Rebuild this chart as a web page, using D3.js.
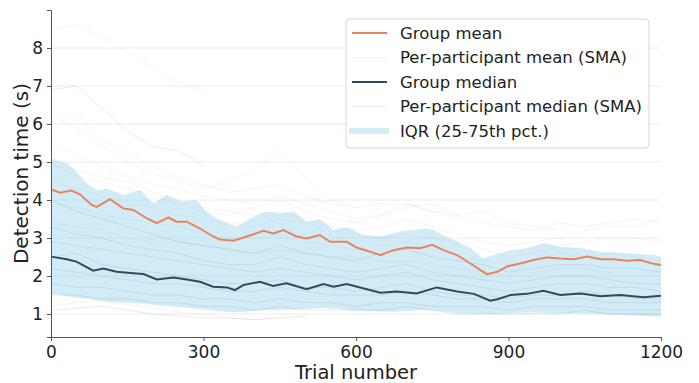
<!DOCTYPE html>
<html>
<head>
<meta charset="utf-8">
<script src="https://cdn.jsdelivr.net/npm/d3@7"></script>
<style>
  html, body { margin: 0; padding: 0; background: #fff; }
  svg { display: block; font-family: "DejaVu Sans", sans-serif; }
</style>
</head>
<body>
<svg id="chart" width="699" height="383"></svg>
<script>
// ---------------- DATA ----------------
const xTicks = [0, 300, 600, 900, 1200];
const yTicks = [1, 2, 3, 4, 5, 6, 7, 8];

const meanTrials = [0, 18, 40, 57, 80, 90, 116, 142, 162, 188, 208, 231, 247, 267, 293, 319, 332, 359, 385, 418, 437, 457, 483, 503, 529, 549, 582, 601, 628, 648, 673, 700, 726, 750, 772, 799, 825, 844, 858, 878, 897, 923, 949, 976, 1002, 1028, 1055, 1081, 1106, 1134, 1159, 1185, 1200];
const meanValues = [4.28, 4.19, 4.25, 4.15, 3.87, 3.82, 4.02, 3.78, 3.74, 3.52, 3.39, 3.54, 3.43, 3.43, 3.25, 3.04, 2.96, 2.93, 3.04, 3.19, 3.12, 3.21, 3.04, 2.99, 3.08, 2.90, 2.90, 2.75, 2.64, 2.55, 2.68, 2.75, 2.73, 2.82, 2.68, 2.55, 2.33, 2.16, 2.05, 2.11, 2.25, 2.33, 2.42, 2.49, 2.46, 2.44, 2.51, 2.44, 2.44, 2.40, 2.42, 2.32, 2.29];

const medianTrials = [0, 31, 50, 83, 103, 129, 162, 182, 208, 241, 267, 293, 319, 346, 362, 378, 411, 437, 463, 503, 536, 556, 582, 608, 648, 680, 719, 759, 799, 832, 864, 878, 904, 936, 969, 1002, 1042, 1081, 1120, 1166, 1200];
const medianValues = [2.51, 2.44, 2.38, 2.14, 2.20, 2.11, 2.07, 2.05, 1.91, 1.96, 1.91, 1.85, 1.72, 1.70, 1.63, 1.76, 1.85, 1.74, 1.81, 1.65, 1.79, 1.72, 1.79, 1.70, 1.56, 1.59, 1.54, 1.70, 1.59, 1.53, 1.35, 1.39, 1.50, 1.53, 1.61, 1.50, 1.54, 1.47, 1.50, 1.44, 1.48];

const iqrUpperTrials = [0, 31, 44, 70, 90, 110, 142, 175, 201, 228, 254, 286, 306, 332, 365, 398, 424, 450, 477, 503, 529, 556, 582, 614, 648, 687, 739, 752, 792, 825, 851, 871, 904, 936, 969, 1002, 1042, 1081, 1134, 1185, 1200];
const iqrUpperValues = [5.10, 4.96, 4.83, 4.44, 4.26, 4.30, 4.13, 4.26, 3.91, 4.13, 3.96, 4.00, 3.69, 3.47, 3.30, 3.56, 3.69, 3.65, 3.69, 3.43, 3.50, 3.21, 3.28, 3.08, 3.04, 3.17, 3.25, 3.21, 2.95, 2.73, 2.46, 2.55, 2.68, 2.73, 2.86, 2.77, 2.73, 2.64, 2.60, 2.55, 2.51];

const iqrLowerTrials = [0, 18, 44, 77, 110, 175, 241, 306, 359, 405, 470, 536, 601, 673, 739, 805, 871, 936, 1002, 1068, 1134, 1200];
const iqrLowerValues = [1.54, 1.50, 1.44, 1.39, 1.32, 1.28, 1.19, 1.11, 1.04, 1.09, 1.11, 1.15, 1.09, 1.06, 1.11, 1.02, 1.00, 1.04, 1.02, 1.00, 0.97, 0.93];

// per-participant SMA curves, one value every 50 trials starting at trial 0
const participantStep = 50;
const participantMeans = [
  [8.5, 8.6, 8.3, 7.9, 7.5, 7.1, 6.9],
  [6.2, 5.9, 5.4, 5.0, 4.7, 4.5, 4.3, 4.5, 4.8, 5.3, 4.6, 4.0, 3.8],
  [5.8, 6.3, 5.6, 5.2, 4.9, 4.6, 4.4, 4.2, 4.3, 4.4, 4.1, 3.9, 3.8, 3.9, 3.9, 3.7, 3.6, 3.7, 3.4, 3.3, 3.2],
  [5.5, 5.2, 4.9, 4.6, 4.4, 4.3, 4.1, 4.0, 3.9, 4.1, 3.9, 3.7, 3.5, 3.6, 3.8, 3.9, 3.6, 3.4, 3.3, 3.2, 3.4, 3.3, 3.4, 3.5, 3.4],
  [4.9, 4.8, 4.6, 4.5, 4.2, 4.0, 3.8, 3.7, 3.6, 3.7, 3.5, 3.3, 3.2, 3.3, 3.5, 3.3, 3.1, 2.9, 2.8, 2.9, 3.0, 3.2, 3.3, 3.3, 3.5],
  [3.9, 3.8, 3.6, 3.5, 3.4, 3.3, 3.1, 3.0, 3.0, 3.1, 2.9, 2.8, 2.7, 2.8, 2.9, 2.7, 2.5, 2.4, 2.3, 2.4, 2.6, 2.5, 2.6, 2.5, 2.4],
  [3.4, 3.3, 3.2, 3.0, 2.9, 2.9, 2.8, 2.7, 2.6, 2.7, 2.6, 2.5, 2.5, 2.4, 2.4, 2.3, 2.2, 2.1, 2.0, 2.1, 2.2, 2.2, 2.1, 2.1, 2.0],
  [5.0, 4.6, 4.5, 4.3, 4.1, 3.9, 3.7, 3.6, 3.8, 4.0, 3.7, 3.5, 3.4, 3.6, 3.9, 3.7, 3.5],
  [1.2, 1.3, 1.35, 1.25, 1.15, 1.05, 1.0, 0.9, 0.85, 0.9],
  [4.5, 4.3, 4.1, 3.9, 3.8, 3.6, 3.5, 3.4, 3.3, 3.5, 3.4, 3.2, 3.1, 3.0, 3.1, 3.0, 2.9, 2.7, 2.5, 2.6, 2.8, 2.9, 3.0, 3.0, 2.9]
];
const participantMedians = [
  [6.9, 7.0, 6.4, 5.8, 5.4, 5.3, 4.9],
  [2.9, 2.8, 2.7, 2.6, 2.5, 2.4, 2.3, 2.2, 2.1, 2.2, 2.1, 2.0, 1.9, 2.0, 2.1, 1.9, 1.8, 1.7, 1.6, 1.7, 1.8, 1.8, 1.7, 1.7, 1.6],
  [2.2, 2.1, 2.0, 1.9, 1.8, 1.8, 1.7, 1.6, 1.6, 1.7, 1.6, 1.5, 1.5, 1.5, 1.6, 1.5, 1.4, 1.4, 1.3, 1.4, 1.4, 1.4, 1.3, 1.3, 1.3],
  [1.8, 1.7, 1.7, 1.6, 1.5, 1.5, 1.4, 1.4, 1.3, 1.4, 1.3, 1.3, 1.2, 1.3, 1.3, 1.2, 1.2, 1.2, 1.1, 1.2, 1.2, 1.2, 1.1, 1.1, 1.1],
  [3.3, 3.1, 3.0, 2.8, 2.7, 2.6, 2.4, 2.3, 2.3, 2.5, 2.3, 2.2, 2.1, 2.2, 2.3, 2.1, 2.0, 1.9, 1.8, 1.9, 2.0, 2.0, 1.9, 1.8, 1.8],
  [2.5, 2.6, 2.3, 2.2, 2.1, 2.0, 1.9, 1.8, 1.8, 1.9, 1.7, 1.7, 1.6, 1.7, 1.8, 1.6, 1.5, 1.5, 1.4, 1.5, 1.5, 1.6, 1.5, 1.4, 1.4],
  [4.0, 3.7, 3.5, 3.3, 3.1, 2.9, 2.8, 2.7, 2.6, 2.8, 2.6, 2.5, 2.4, 2.6, 2.7, 2.5, 2.4, 2.3, 2.1, 2.2, 2.3, 2.3, 2.2, 2.2, 2.1],
  [1.5, 1.5, 1.4, 1.4, 1.3, 1.3, 1.2, 1.2, 1.1, 1.2, 1.1, 1.1, 1.1, 1.1, 1.2, 1.1, 1.0, 1.0, 1.0, 1.0, 1.0, 1.1, 1.0, 1.0, 1.0],
  [1.1, 1.15, 1.2, 1.1, 1.0, 0.95, 0.9, 0.9, 0.85, 0.9, 0.95]
];

const legendLabels = ["Group mean", "Per-participant mean (SMA)", "Group median", "Per-participant median (SMA)", "IQR (25-75th pct.)"];

// ---------------- STYLE ----------------
const colMean = "#e8845c";
const colMedian = "#34495e";
const colBand = "#87ceeb";
const colPMean = "#f0a07a";
const colPMedian = "#5d6d7e";

const svg = d3.select("#chart");
const margin = { left: 51, right: 38, top: 10, bottom: 46 };
const W = 699, H = 383;

const x = d3.scaleLinear().domain([0, 1200]).range([margin.left, W - margin.right]);
const y = d3.scaleLinear().domain([0.395, 9.0]).range([H - margin.bottom, margin.top]);

// grid
svg.append("g").selectAll("line").data(yTicks).join("line")
  .attr("x1", x(0)).attr("x2", x(1200))
  .attr("y1", d => y(d)).attr("y2", d => y(d))
  .attr("stroke", "#ececec").attr("stroke-width", 1);

const line = d3.line().x(d => x(d[0])).y(d => y(d[1]));
const zip = (ts, vs) => ts.map((t, i) => [t, vs[i]]);

// participant lines
const pm = svg.append("g");
participantMeans.forEach(vals => {
  pm.append("path").datum(vals.map((v, i) => [i * participantStep, v]))
    .attr("d", line).attr("fill", "none")
    .attr("stroke", colPMean).attr("stroke-width", 0.7).attr("stroke-opacity", 0.2);
});

// IQR band
const bandPts = zip(iqrUpperTrials, iqrUpperValues).concat(zip(iqrLowerTrials, iqrLowerValues).reverse());
svg.append("path").datum(bandPts)
  .attr("d", d => line(d) + "Z")
  .attr("fill", colBand).attr("fill-opacity", 0.38).attr("stroke", "none");

const pmed = svg.append("g");
participantMedians.forEach(vals => {
  pmed.append("path").datum(vals.map((v, i) => [i * participantStep, v]))
    .attr("d", line).attr("fill", "none")
    .attr("stroke", colPMedian).attr("stroke-width", 0.7).attr("stroke-opacity", 0.2);
});

// group lines
svg.append("path").datum(zip(meanTrials, meanValues))
  .attr("d", line).attr("fill", "none").attr("stroke", colMean).attr("stroke-width", 2);
svg.append("path").datum(zip(medianTrials, medianValues))
  .attr("d", line).attr("fill", "none").attr("stroke", colMedian).attr("stroke-width", 2);

// axes
const xAxis = d3.axisBottom(x).tickValues(xTicks).tickSize(4).tickPadding(5).tickFormat(d3.format("d"));
const yAxis = d3.axisLeft(y).tickValues(yTicks).tickSize(4).tickPadding(4).tickFormat(d3.format("d"));

const gx = svg.append("g").attr("transform", `translate(0,${y.range()[0]})`).call(xAxis);
const gy = svg.append("g").attr("transform", `translate(${x.range()[0]},0)`).call(yAxis);
[gx, gy].forEach(g => {
  g.select(".domain").attr("stroke", "#555").attr("stroke-width", 1);
  g.selectAll(".tick line").attr("stroke", "#555");
  g.selectAll(".tick text").attr("fill", "#222").style("font-size", "17px").style("font-family", "DejaVu Sans");
});

// axis titles
svg.append("text")
  .attr("x", (x(0) + x(1200)) / 2).attr("y", 379)
  .attr("text-anchor", "middle").attr("fill", "#222")
  .style("font-size", "19.5px").text("Trial number");
svg.append("text")
  .attr("transform", `translate(28,${(y.range()[0] + y.range()[1]) / 2}) rotate(-90)`)
  .attr("text-anchor", "middle").attr("fill", "#222")
  .style("font-size", "20px").text("Detection time (s)");

// legend
const lg = svg.append("g").attr("transform", "translate(346,19)");
lg.append("rect").attr("width", 303).attr("height", 129).attr("rx", 4)
  .attr("fill", "#fff").attr("fill-opacity", 0.85).attr("stroke", "#d6d6d6");
const rows = [
  { type: "line", color: colMean, w: 2, op: 1 },
  { type: "line", color: colPMean, w: 1, op: 0.15 },
  { type: "line", color: colMedian, w: 2, op: 1 },
  { type: "line", color: colPMedian, w: 1, op: 0.12 },
  { type: "band", color: colBand, op: 0.38 }
];
legendLabels.forEach((lab, i) => {
  const ry = 14 + i * 24.5;
  const r = rows[i];
  if (r.type === "line") {
    lg.append("line").attr("x1", 6).attr("x2", 41).attr("y1", ry).attr("y2", ry)
      .attr("stroke", r.color).attr("stroke-width", r.w).attr("stroke-opacity", r.op);
  } else {
    lg.append("rect").attr("x", 3).attr("y", ry - 3).attr("width", 40).attr("height", 6)
      .attr("fill", r.color).attr("fill-opacity", r.op);
  }
  lg.append("text").attr("x", 54).attr("y", ry).attr("dy", "0.36em")
    .attr("fill", "#222").style("font-size", "16.5px").text(lab);
});
</script>
</body>
</html>
